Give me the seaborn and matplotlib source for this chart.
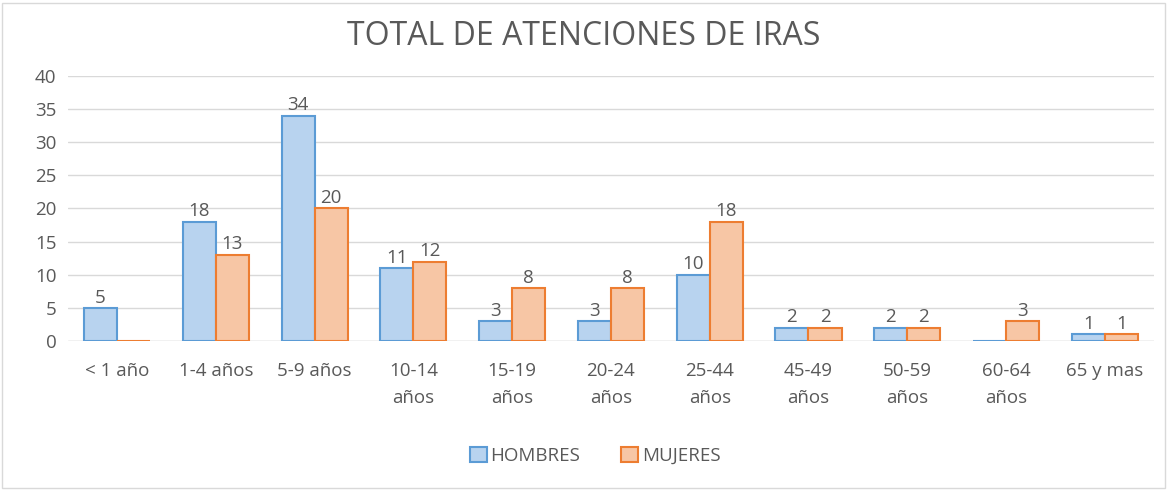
import pandas as pd
import seaborn as sns
import matplotlib
matplotlib.use("Agg")
import matplotlib.pyplot as plt
from matplotlib.patches import Rectangle

# data
grupos = ['< 1 año', '1-4 años', '5-9 años', '10-14\naños', '15-19\naños',
          '20-24\naños', '25-44\naños', '45-49\naños', '50-59\naños',
          '60-64\naños', '65 y mas']
hombres = [5, 18, 34, 11, 3, 3, 10, 2, 2, 0, 1]
mujeres = [0, 13, 20, 12, 8, 8, 18, 2, 2, 3, 1]

df = pd.DataFrame({
    'grupo': grupos * 2,
    'valor': hombres + mujeres,
    'sexo': ['HOMBRES'] * len(grupos) + ['MUJERES'] * len(grupos),
})

gris = '#595959'
fills = {'HOMBRES': '#B8D3EF', 'MUJERES': '#F7C6A5'}
edges = {'HOMBRES': '#5B9BD5', 'MUJERES': '#ED7D31'}

sns.set_style('white')
plt.rcParams['font.family'] = ['Open Sans', 'DejaVu Sans']

fig = plt.figure(figsize=(11.67, 4.9), dpi=100)
ax = fig.add_axes([0.058, 0.304, 0.931, 0.541])

sns.barplot(data=df, x='grupo', y='valor', hue='sexo', palette=fills,
            width=0.67, gap=0, saturation=1, ax=ax, legend=False)

for cont, sexo in zip(ax.containers, ['HOMBRES', 'MUJERES']):
    for bar in cont:
        bar.set_edgecolor(edges[sexo])
        bar.set_linewidth(1.5)
    labels = [str(int(v)) if v > 0 else '' for v in cont.datavalues]
    ax.bar_label(cont, labels=labels, padding=1, fontsize=13.5, color=gris)

ax.set_ylim(0, 40)
ax.set_yticks(range(0, 41, 5))
ax.set_xlim(-0.5, len(grupos) - 0.5)
ax.yaxis.grid(True, color='#D9D9D9', linewidth=1)
ax.set_axisbelow(True)
for s in ax.spines.values():
    s.set_visible(False)
ax.axhline(0, color='#D9D9D9', linewidth=1, zorder=0)
ax.tick_params(axis='both', length=0, labelsize=13.5, labelcolor=gris, pad=8)
ax.tick_params(axis='x', pad=15)
for t in ax.get_xticklabels():
    t.set_linespacing(1.65)
    t.set_verticalalignment('top')
ax.set_xlabel('')
ax.set_ylabel('')

fig.suptitle('TOTAL DE ATENCIONES DE IRAS', y=0.96, fontsize=23, color=gris)

handles = [Rectangle((0, 0), 1, 1, facecolor=fills[k], edgecolor=edges[k], linewidth=1.5)
           for k in ['HOMBRES', 'MUJERES']]
fig.legend(handles, ['HOMBRES', 'MUJERES'], loc='center', bbox_to_anchor=(0.51, 0.07),
           ncol=2, frameon=False, fontsize=13.5, labelcolor=gris,
           handlelength=0.9, handleheight=0.9, handletextpad=0.2, columnspacing=2.2)

fig.patches.append(Rectangle((0.002, 0.004), 0.996, 0.99, transform=fig.transFigure,
                             fill=False, edgecolor='#D9D9D9', linewidth=1))

fig.savefig('out.png', dpi=100)
